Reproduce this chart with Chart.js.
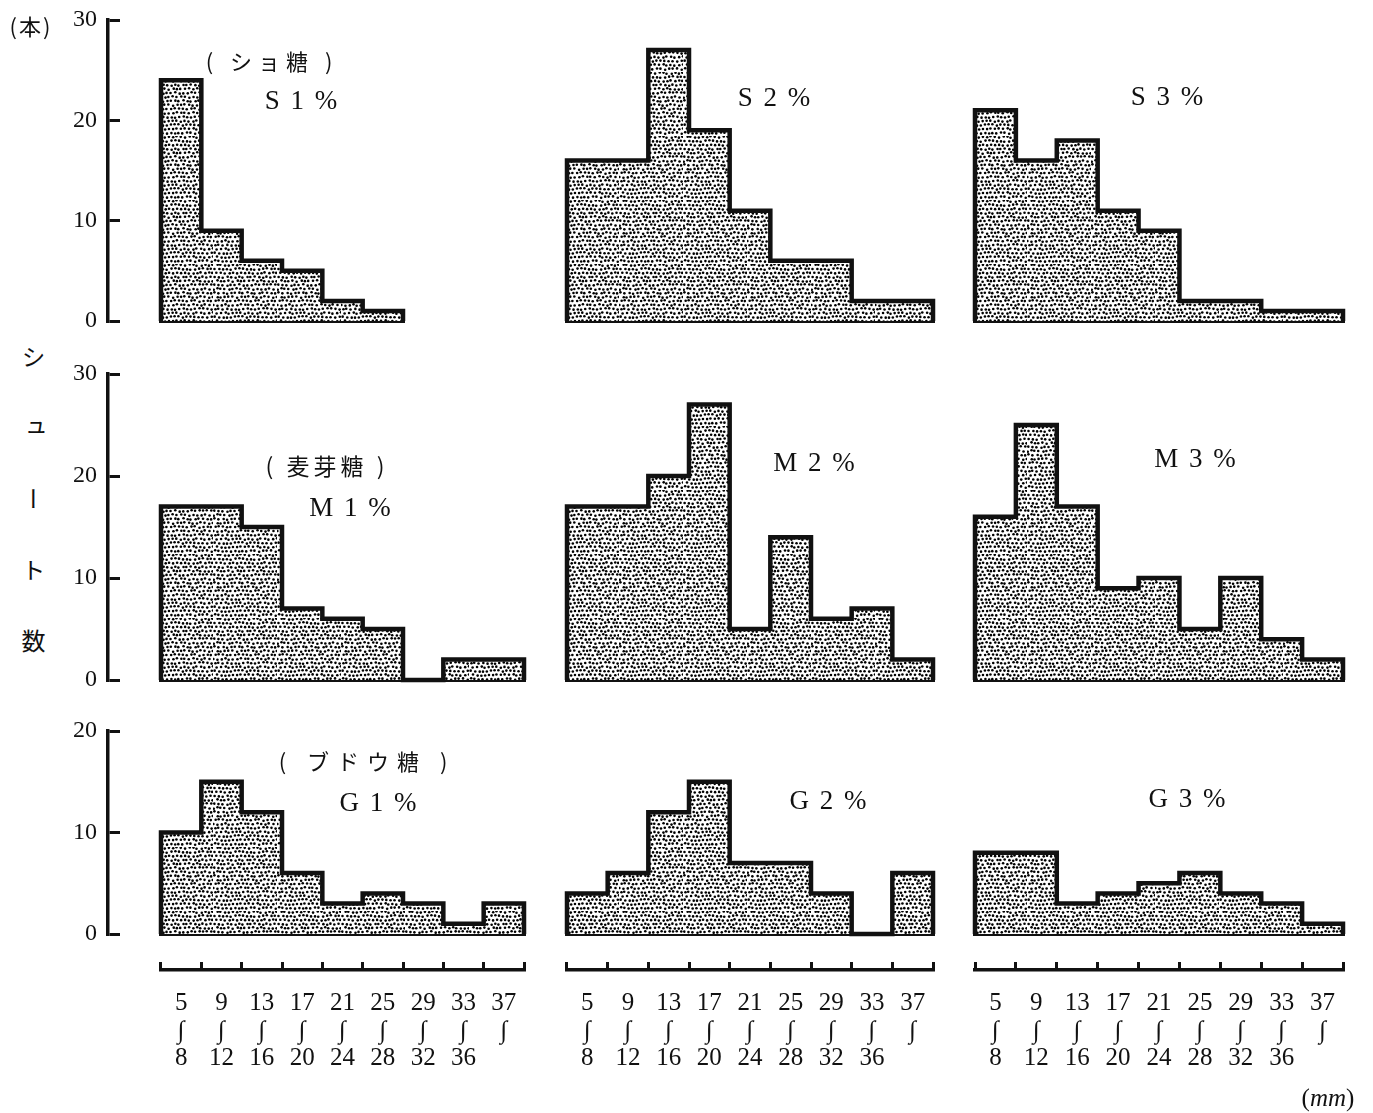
<!DOCTYPE html>
<html lang="ja">
<head>
<meta charset="utf-8">
<script src="https://cdn.jsdelivr.net/npm/chart.js@4.4.1/dist/chart.umd.min.js"></script>
<style>
  body { margin: 0; background: #fff; }
  #page { position: relative; width: 1373px; height: 1113px; overflow: hidden; background: #fff; }
  #page canvas { position: absolute; }
  .txt { position: absolute; transform: translate(-50%, -50%); white-space: nowrap; color: #111; line-height: 1; }
  .jp { font-family: 'Noto Sans CJK JP', sans-serif; }
  .lat { font-family: 'Liberation Serif', serif; }
  #ylab { position: absolute; left: 21px; top: 345px; writing-mode: vertical-rl; font-size: 24px; letter-spacing: 47px; line-height: 1; color: #111; }
</style>
</head>
<body>
<div id="page">
  <div id="ylab" class="jp">シュート数</div>
</div>
<script>
// 階級 (mm)
let binStart = [5, 9, 13, 17, 21, 25, 29, 33, 37]
let binEnd = [8, 12, 16, 20, 24, 28, 32, 36, '']

// シュート数 (本) — ショ糖
let s1 = [24, 9, 6, 5, 2, 1, 0, 0, 0]
let s2 = [16, 16, 27, 19, 11, 6, 6, 2, 2]
let s3 = [21, 16, 18, 11, 9, 2, 2, 1, 1]
// 麦芽糖
let m1 = [17, 17, 15, 7, 6, 5, 0, 2, 2]
let m2 = [17, 17, 20, 27, 5, 14, 6, 7, 2]
let m3 = [16, 25, 17, 9, 10, 5, 10, 4, 2]
// ブドウ糖
let g1 = [10, 15, 12, 6, 3, 4, 3, 1, 3]
let g2 = [4, 6, 12, 15, 7, 7, 4, 0, 6]
let g3 = [8, 8, 3, 4, 5, 6, 4, 3, 1]

// y軸の目盛
let yTicksTop = [0, 10, 20, 30]
let yTicksMid = [0, 10, 20, 30]
let yTicksBottom = [0, 10, 20]

// レイアウト (px)
const INK = '#111'
const COLS = [[161, 524], [567, 933], [975, 1343]]
const ROWS = [
    { top: 20, bottom: 321, ticks: yTicksTop },
    { top: 374, bottom: 680, ticks: yTicksMid },
    { top: 731, bottom: 934, ticks: yTicksBottom }
]
const AXIS_Y = 970
const SERIF = "'Liberation Serif', 'DejaVu Serif', serif"

const page = document.getElementById('page')

function addCanvas(left, top, w, h) {
    let c = document.createElement('canvas')
    c.width = w
    c.height = h
    c.style.left = left + 'px'
    c.style.top = top + 'px'
    c.style.width = w + 'px'
    c.style.height = h + 'px'
    page.appendChild(c)
    return c.getContext('2d')
}

// 網点パターン (固定のゆらぎ)
function wobble(i, j) {
    let v = Math.sin(i * 12.9898 + j * 78.233) * 43758.5453
    return v - Math.floor(v)
}
function makeStipple() {
    const T = 64, STEP = 4
    let c = document.createElement('canvas')
    c.width = T
    c.height = T
    let g = c.getContext('2d')
    g.fillStyle = '#fff'
    g.fillRect(0, 0, T, T)
    g.fillStyle = '#000'
    for (let j = 0; j < T / STEP; j++) {
        for (let i = 0; i < T / STEP; i++) {
            let x = (i * STEP + (j % 2) * 2 + (wobble(i, j) - 0.5) * 1.6 + T) % T
            let y = (j * STEP + 1 + (wobble(j + 31, i + 7) - 0.5) * 1.6 + T) % T
            g.beginPath()
            g.arc(x, y, 1.3, 0, Math.PI * 2)
            g.fill()
        }
    }
    return g.createPattern(c, 'repeat')
}
const stipple = makeStipple()

function lastBin(vals) {
    let last = 0
    vals.forEach(function (v, i) { if (v > 0) last = i })
    return last
}

// 階段状の輪郭点
function stepPoints(vals) {
    let last = lastBin(vals)
    let pts = [{ x: 0, y: 0 }]
    for (let i = 0; i <= last; i++) {
        pts.push({ x: i, y: vals[i] }, { x: i + 1, y: vals[i] })
    }
    pts.push({ x: last + 1, y: 0 })
    return pts
}

const baseOpts = {
    responsive: false,
    animation: false,
    events: [],
    plugins: { legend: { display: false }, tooltip: { enabled: false } }
}

function drawHist(vals, col, row) {
    const P = 12
    let x0 = COLS[col][0], x1 = COLS[col][1]
    let r = ROWS[row]
    let ctx = addCanvas(x0 - P, r.top - P, x1 - x0 + 2 * P, r.bottom - r.top + 2 * P)
    new Chart(ctx, {
        type: 'line',
        data: {
            datasets: [
                {
                    data: stepPoints(vals),
                    borderColor: INK,
                    borderWidth: 4.5,
                    borderJoinStyle: 'miter',
                    backgroundColor: stipple,
                    fill: 'origin',
                    pointRadius: 0,
                    tension: 0,
                    clip: false
                },
                {
                    data: [{ x: 0, y: 0 }, { x: lastBin(vals) + 1, y: 0 }],
                    borderColor: INK,
                    borderWidth: 4,
                    borderCapStyle: 'square',
                    fill: false,
                    pointRadius: 0,
                    clip: false
                }
            ]
        },
        options: Object.assign({}, baseOpts, {
            layout: { padding: P },
            scales: {
                x: { type: 'linear', display: false, min: 0, max: binStart.length },
                y: { display: false, min: 0, max: r.ticks[r.ticks.length - 1] }
            }
        })
    })
}

// 左側のy軸 (目盛は内向き)
function drawYAxis(row) {
    const P = 16
    let r = ROWS[row]
    let ctx = addCanvas(20, r.top - P, 110, r.bottom - r.top + 2 * P)
    new Chart(ctx, {
        type: 'line',
        data: { datasets: [] },
        options: Object.assign({}, baseOpts, {
            layout: { padding: { left: 18, right: 10, top: P, bottom: P } },
            scales: {
                x: { type: 'linear', display: false, min: 0, max: 1 },
                y: {
                    min: r.ticks[0],
                    max: r.ticks[r.ticks.length - 1],
                    afterFit: function (s) {
                        s.width = 70
                        s.paddingTop = 0
                        s.paddingBottom = 0
                    },
                    afterBuildTicks: function (s) { s.ticks = r.ticks.map(v => ({ value: v })) },
                    ticks: { color: INK, padding: 11, font: { family: SERIF, size: 24 } },
                    grid: { drawTicks: false, color: INK, lineWidth: 3 },
                    border: { display: true, color: INK, width: 3.5 }
                }
            }
        })
    })
}

// 下側のx軸
function drawXAxis(col) {
    const PX = 20, PT = 10, TICK = 8, H = 110
    let x0 = COLS[col][0], x1 = COLS[col][1]
    let labels = binStart.map(function (s, i) {
        return binEnd[i] !== '' ? [String(s), '∫', String(binEnd[i])] : [String(s), '∫']
    })
    let ctx = addCanvas(x0 - PX, AXIS_Y - TICK - PT, x1 - x0 + 2 * PX, PT + TICK + H + 6)
    new Chart(ctx, {
        type: 'line',
        data: { labels: labels, datasets: [] },
        options: Object.assign({}, baseOpts, {
            layout: { padding: { left: PX, right: PX, top: PT, bottom: 6 } },
            scales: {
                x: {
                    type: 'category',
                    offset: true,
                    afterFit: function (s) { s.height = H },
                    grid: { offset: true, drawTicks: false, color: INK, lineWidth: 3 },
                    border: { display: true, color: INK, width: 3.5 },
                    ticks: {
                        color: INK, padding: 20, autoSkip: false, maxRotation: 0,
                        font: { family: SERIF, size: 25, lineHeight: 1.1 }
                    }
                },
                y: { display: false }
            }
        })
    })
}

function text(str, cx, cy, cls, size, extra) {
    let d = document.createElement('div')
    d.className = 'txt ' + cls
    d.innerHTML = str
    d.style.left = cx + 'px'
    d.style.top = cy + 'px'
    d.style.fontSize = size + 'px'
    if (extra) Object.assign(d.style, extra)
    page.appendChild(d)
}

// 描画
drawHist(s1, 0, 0); drawHist(s2, 1, 0); drawHist(s3, 2, 0)
drawHist(m1, 0, 1); drawHist(m2, 1, 1); drawHist(m3, 2, 1)
drawHist(g1, 0, 2); drawHist(g2, 1, 2); drawHist(g3, 2, 2)
drawYAxis(0); drawYAxis(1); drawYAxis(2)
drawXAxis(0); drawXAxis(1); drawXAxis(2)

// 文字
text('(本)', 31, 25, 'jp', 22, { letterSpacing: '2px' })
text('( ショ糖 )', 272, 60, 'jp', 22, { letterSpacing: '6px' })
text('S 1 %', 302, 100, 'lat', 27, { letterSpacing: '2px' })
text('S 2 %', 775, 97, 'lat', 27, { letterSpacing: '2px' })
text('S 3 %', 1168, 96, 'lat', 27, { letterSpacing: '2px' })
text('( 麦芽糖 )', 327, 465, 'jp', 23, { letterSpacing: '4px' })
text('M 1 %', 351, 507, 'lat', 27, { letterSpacing: '2px' })
text('M 2 %', 815, 462, 'lat', 27, { letterSpacing: '2px' })
text('M 3 %', 1196, 458, 'lat', 27, { letterSpacing: '2px' })
text('( ブドウ糖 )', 367, 760, 'jp', 22, { letterSpacing: '8px' })
text('G 1 %', 379, 802, 'lat', 27, { letterSpacing: '2px' })
text('G 2 %', 829, 800, 'lat', 27, { letterSpacing: '2px' })
text('G 3 %', 1188, 798, 'lat', 27, { letterSpacing: '2px' })
text('(<i>mm</i>)', 1328, 1097, 'lat', 25)
</script>
</body>
</html>
